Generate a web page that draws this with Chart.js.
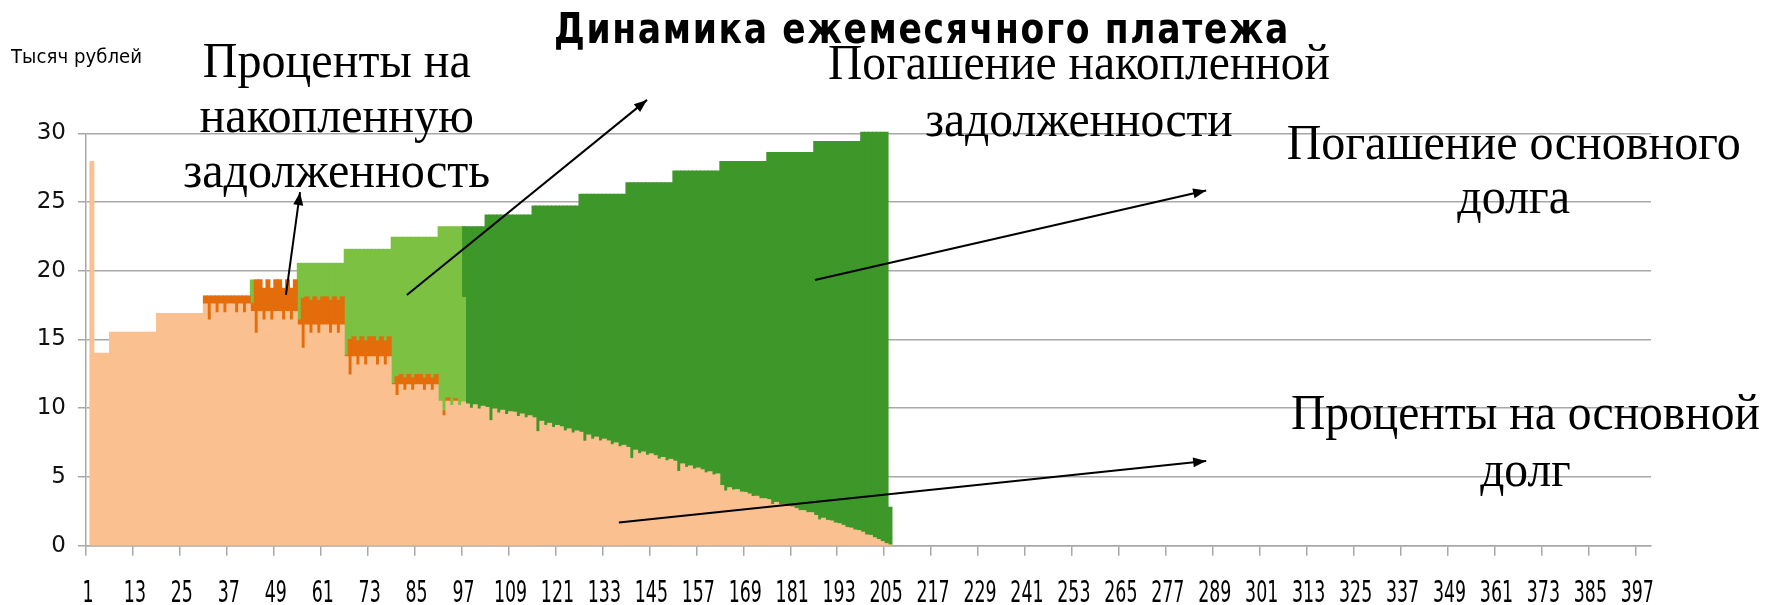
<!DOCTYPE html>
<html lang="ru">
<head>
<meta charset="utf-8">
<title>Динамика ежемесячного платежа</title>
<script src="https://cdn.jsdelivr.net/npm/chart.js@4.4.1/dist/chart.umd.min.js"></script>
<style>
  html, body { margin: 0; padding: 0; background: #fff; }
  canvas { display: block; }
</style>
</head>
<body>
<canvas id="myChart" width="1779" height="605"></canvas>
<script>
// months of the loan, 1..400
const months = Array.from({ length: 400 }, (_, i) => String(i + 1));

// thousand rubles per month
// interest on the principal, from month 2
const principalInterestFrom = 2;
const principalInterest = [
  27.94, 14.0, 14.0, 14.0, 14.0,
  15.52, 15.52, 15.52, 15.52, 15.52, 15.52, 15.52, 15.52, 15.52, 15.52, 15.52, 15.52,
  16.9, 16.9, 16.9, 16.9, 16.9, 16.9, 16.9, 16.9, 16.9, 16.9, 16.9, 16.9,
  17.58, 16.42, 17.58, 16.95, 17.58, 16.95, 17.58, 17.58, 16.95, 17.58, 16.95, 17.58,
  17.03, 15.45, 17.03, 16.42, 17.03, 16.42, 17.03, 17.03, 16.42, 17.03, 16.42, 17.03,
  16.06, 14.36, 16.06, 15.45, 16.06, 15.45, 16.06, 16.06, 15.45, 16.06, 15.45, 16.06,
  13.75, 12.42, 13.75, 13.15, 13.75, 13.15, 13.75, 13.75, 13.15, 13.75, 13.15, 13.75,
  11.7, 10.92, 11.7, 11.3, 11.7, 11.3, 11.7, 11.7, 11.3, 11.7, 11.3, 11.7,
  10.5, 9.45, 10.5, 10.2, 10.5, 10.2, 10.45, 10.3, 10.0, 10.25, 9.95, 10.15,
  10.05, 9.1, 9.95, 9.65, 9.85, 9.55, 9.75, 9.7, 9.4, 9.58, 9.3, 9.45,
  9.3, 8.3, 9.05, 8.75, 8.9, 8.6, 8.75, 8.65, 8.35, 8.5, 8.2, 8.35,
  8.25, 7.6, 8.05, 7.75, 7.9, 7.62, 7.75, 7.62, 7.35, 7.48, 7.2, 7.3,
  7.15, 6.35, 6.95, 6.7, 6.82, 6.58, 6.68, 6.55, 6.3, 6.42, 6.18, 6.28,
  6.15, 5.4, 5.95, 5.7, 5.8, 5.58, 5.65, 5.52, 5.3, 5.38, 5.15, 5.22,
  4.38, 3.98, 4.22, 4.05, 4.08, 3.9, 3.88, 3.76, 3.58, 3.6, 3.42, 3.42,
  3.35, 3.0, 3.15, 2.98, 3.0, 2.85, 2.82, 2.7, 2.55, 2.55, 2.4, 2.4,
  2.2, 1.88, 2.0, 1.84, 1.8, 1.65, 1.6, 1.48, 1.32, 1.28, 1.14, 1.1,
  0.98, 0.78, 0.75, 0.58, 0.45, 0.3, 0.15, 0.03
];

// interest on the accumulated debt, from month 31
const debtInterestFrom = 31;
const debtInterest = [
  0.59, 1.75, 0.59, 1.22, 0.59, 1.22, 0.59, 0.59, 1.22, 0.59, 1.22, 0.59,
  0.6, 3.88, 2.3, 2.3, 2.3, 2.3, 2.3, 2.3, 2.3, 2.3, 2.3, 2.3,
  0.36, 3.64, 2.04, 2.4, 2.04, 2.4, 2.04, 2.04, 2.4, 2.04, 2.4, 2.04,
  0.1, 2.58, 1.45, 1.75, 1.45, 1.75, 1.45, 1.45, 1.75, 1.45, 1.75, 1.45,
  0.1, 1.38, 0.75, 0.9, 0.75, 0.9, 0.75, 0.75, 0.9, 0.75, 0.9, 0.75,
  0, 0.35, 0.25, 0, 0.2
];

// repayment of the accumulated debt, from month 43
const debtRepaymentFrom = 43;
const debtRepayment = [
  1.7, 0, 0, 0, 0, 0, 0, 0, 0, 0, 0, 0,
  4.12, 2.54, 2.44, 2.69, 2.44, 2.69, 2.44, 2.44, 2.69, 2.44, 2.69, 2.44,
  7.71, 6.56, 6.36, 6.66, 6.36, 6.66, 6.36, 6.36, 6.66, 6.36, 6.66, 6.36,
  10.63, 10.13, 9.98, 10.23, 9.98, 10.23, 9.98, 9.98, 10.23, 9.98, 10.23, 9.98,
  12.71, 13.41, 12.46, 13.01, 12.51, 13.01, 7.6
];

// repayment of the principal, from month 97
const principalRepaymentFrom = 97;
const principalRepayment = [
  5.16, 12.91, 13.21, 12.96, 13.26, 13.06,
  14.01, 14.96, 14.11, 14.41, 14.21, 14.51, 14.31, 14.36, 14.66, 14.48, 14.76, 14.61,
  15.41, 16.41, 15.66, 15.96, 15.81, 16.11, 15.96, 16.06, 16.36, 16.21, 16.51, 16.36,
  17.31, 17.96, 17.51, 17.81, 17.66, 17.94, 17.81, 17.94, 18.21, 18.08, 18.36, 18.26,
  19.26, 20.06, 19.46, 19.71, 19.59, 19.83, 19.73, 19.86, 20.11, 19.99, 20.23, 20.13,
  21.11, 21.86, 21.31, 21.56, 21.46, 21.68, 21.61, 21.74, 21.96, 21.88, 22.11, 22.04,
  23.56, 23.96, 23.72, 23.89, 23.86, 24.04, 24.06, 24.18, 24.36, 24.34, 24.52, 24.52,
  25.25, 25.6, 25.45, 25.62, 25.6, 25.75, 25.78, 25.9, 26.05, 26.05, 26.2, 26.2,
  27.2, 27.52, 27.4, 27.56, 27.6, 27.75, 27.8, 27.92, 28.08, 28.12, 28.26, 28.3,
  29.09, 29.29, 29.32, 29.49, 29.62, 29.77, 29.92, 2.77
];

const yTicks = [0, 5, 10, 15, 20, 25, 30];

// place a series that starts at a given month onto the category axis
function toPoints(values, from) {
  return values.map((v, i) => ({ x: months[from - 1 + i], y: v }));
}

// callouts: text lines at (month index, value), arrows between (index, value) pairs
const callouts = [
  { lines: ["Проценты на", "накопленную", "задолженность"], at: 63.6, base: [34.1, 30.1, 26.1], width: 307 },
  { lines: ["Погашение накопленной", "задолженности"], at: 253.3, base: [33.93, 29.81], width: 502 },
  { lines: ["Погашение основного", "долга"], at: 364.4, base: [28.13, 24.2], width: 454 },
  { lines: ["Проценты на основной", "долг"], at: 367.4, base: [8.49, 4.37], width: 469 }
];
const arrows = [
  [50.6, 18.24, 54.2, 25.72],
  [81.5, 18.24, 142.9, 32.43],
  [185.8, 19.33, 285.8, 25.84],
  [135.7, 1.69, 285.8, 6.16]
];

function fitText(ctx, text, x, y, sx) {
  ctx.save();
  ctx.translate(x, y);
  ctx.scale(sx, 1);
  ctx.fillText(text, 0, 0);
  ctx.restore();
}

function drawArrow(ctx, x1, y1, x2, y2) {
  ctx.beginPath();
  ctx.moveTo(x1, y1);
  ctx.lineTo(x2, y2);
  ctx.stroke();
  const a = Math.atan2(y2 - y1, x2 - x1), len = 13, w = 5;
  const bx = x2 - len * Math.cos(a), by = y2 - len * Math.sin(a);
  ctx.beginPath();
  ctx.moveTo(x2, y2);
  ctx.lineTo(bx + w * Math.sin(a), by - w * Math.cos(a));
  ctx.lineTo(bx - w * Math.sin(a), by + w * Math.cos(a));
  ctx.closePath();
  ctx.fill();
}

const decorations = {
  id: "decorations",
  afterDraw(chart) {
    const ctx = chart.ctx;
    const xs = chart.scales.x, ys = chart.scales.y;
    ctx.save();
    ctx.fillStyle = "#000";
    ctx.textAlign = "center";
    ctx.textBaseline = "alphabetic";

    // x tick labels, every 12th month, narrow like the original
    ctx.font = '30px "DejaVu Sans", sans-serif';
    xs.ticks.forEach((t, i) => {
      if (i % 12 !== 0) return;
      fitText(ctx, xs.getLabelForValue(t.value), xs.getPixelForTick(i), 601.5, 0.58);
    });

    // title and unit
    ctx.font = 'bold 42px "DejaVu Sans", sans-serif';
    ctx.letterSpacing = "2px";
    const title = "Динамика ежемесячного платежа";
    fitText(ctx, title, 922, 43, 736 / ctx.measureText(title).width);
    ctx.letterSpacing = "0px";
    ctx.font = '19px "DejaVu Sans", sans-serif';
    const unit = "Тысяч рублей";
    fitText(ctx, unit, 76.5, 63, 131 / ctx.measureText(unit).width);

    // callout texts
    ctx.font = '51px "Liberation Serif", "Times New Roman", serif';
    callouts.forEach(c => {
      const widest = Math.max(...c.lines.map(l => ctx.measureText(l).width));
      const sx = c.width / widest;
      const cx = xs.getPixelForValue(c.at);
      c.lines.forEach((l, k) => fitText(ctx, l, cx, ys.getPixelForValue(c.base[k]), sx));
    });

    // arrows
    ctx.strokeStyle = "#000";
    ctx.lineWidth = 2;
    arrows.forEach(a => drawArrow(ctx,
      xs.getPixelForValue(a[0]), ys.getPixelForValue(a[1]),
      xs.getPixelForValue(a[2]), ys.getPixelForValue(a[3])));
    ctx.restore();
  }
};

const gridColor = "#a8a8a8";

const data = {
  labels: months,
  datasets: [
    {
      label: "Проценты на основной долг",
      data: toPoints(principalInterest, principalInterestFrom),
      backgroundColor: "#fac090"
    },
    {
      label: "Проценты на накопленную задолженность",
      data: toPoints(debtInterest, debtInterestFrom),
      backgroundColor: "#e46c0a"
    },
    {
      label: "Погашение накопленной задолженности",
      data: toPoints(debtRepayment, debtRepaymentFrom),
      backgroundColor: "#7cc142"
    },
    {
      label: "Погашение основного долга",
      data: toPoints(principalRepayment, principalRepaymentFrom),
      backgroundColor: "#3d9729"
    }
  ]
};

const config = {
  type: "bar",
  data,
  options: {
    responsive: false,
    animation: false,
    devicePixelRatio: 1,
    events: [],
    layout: { padding: { top: 133.3, right: 128, left: 0, bottom: 0 } },
    datasets: {
      bar: { barPercentage: 1, categoryPercentage: 1, borderWidth: 0, inflateAmount: 0.5, clip: false }
    },
    plugins: {
      legend: { display: false },
      title: { display: false },
      tooltip: { enabled: false }
    },
    scales: {
      x: {
        stacked: true,
        ticks: { display: false, autoSkip: false },
        grid: {
          drawOnChartArea: false,
          tickLength: 10,
          lineWidth: 1.5,
          color: c => (c.index % 12 === 0 ? gridColor : "rgba(0,0,0,0)")
        },
        border: { display: true, color: gridColor, width: 1.5 },
        afterFit(s) { s.height = 59.3; }
      },
      y: {
        stacked: true,
        min: 0,
        max: 30,
        afterBuildTicks(s) { s.ticks = yTicks.map(v => ({ value: v })); },
        ticks: {
          color: "#111",
          padding: 12,
          font: { family: '"DejaVu Sans", sans-serif', size: 23 }
        },
        grid: { color: gridColor, lineWidth: 1.5, tickLength: 8 },
        border: { display: true, color: gridColor, width: 1.5 },
        afterFit(s) { s.width = 86; }
      }
    }
  },
  plugins: [decorations]
};

var myChart = new Chart(document.getElementById("myChart"), config);
</script>
</body>
</html>
